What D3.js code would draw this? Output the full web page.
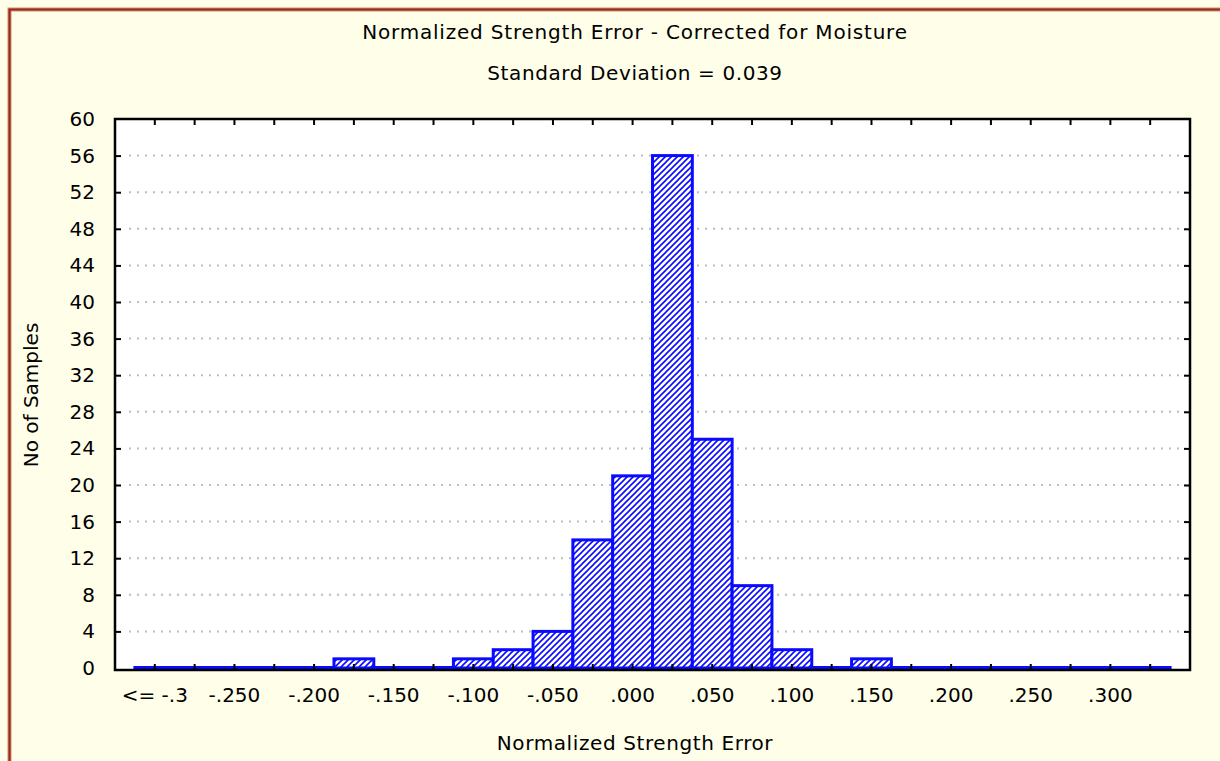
<!DOCTYPE html>
<html>
<head>
<meta charset="utf-8">
<script src="https://cdn.jsdelivr.net/npm/d3@7"></script>
<style>
  html, body { margin: 0; padding: 0; background: #fffef0; }
  svg { display: block; }
  text { font-family: "DejaVu Sans", sans-serif; font-size: 20px; fill: #000; }
</style>
</head>
<body>
<svg id="chart" width="1220" height="761"></svg>
<script>
// ---- data ----
const categories = ["-.300","-.275","-.250","-.225","-.200","-.175","-.150","-.125","-.100","-.075","-.050","-.025",".000",".025",".050",".075",".100",".125",".150",".175",".200",".225",".250",".275",".300",".325"];
const counts = [0,0,0,0,0,1,0,0,1,2,4,14,21,56,25,9,2,0,1,0,0,0,0,0,0,0];
const xTickLabels = ["<= -.3","","-.250","","-.200","","-.150","","-.100","","-.050","",".000","",".050","",".100","",".150","",".200","",".250","",".300",""];
const yTicks = [0,4,8,12,16,20,24,28,32,36,40,44,48,52,56,60];
const titleText = "Normalized Strength Error - Corrected for Moisture";
const subtitleText = "Standard Deviation = 0.039";
const xTitle = "Normalized Strength Error";
const yTitle = "No of Samples";

// ---- layout ----
const W = 1220, H = 761;
const plot = {left: 115, right: 1190, top: 119, bottom: 670};
const blue = "#0a0aff";

const svg = d3.select("#chart");
const defs = svg.append("defs");
const pat = defs.append("pattern")
  .attr("id", "hatch").attr("patternUnits", "userSpaceOnUse")
  .attr("width", 6).attr("height", 6);
pat.append("rect").attr("width", 6).attr("height", 6).attr("fill", "#fff");
pat.append("path").attr("d", "M-1,1 l2,-2 M0,6 l6,-6 M5,7 l2,-2")
  .attr("stroke", blue).attr("stroke-width", 1.6);

// background and outer frame
svg.append("rect").attr("width", W).attr("height", H).attr("fill", "#fffee9");
svg.append("rect").attr("x", 9.5).attr("y", 9.5).attr("width", 1400).attr("height", 1000)
  .attr("fill", "none").attr("stroke", "#d08a74").attr("stroke-width", 4);
svg.append("rect").attr("x", 9.5).attr("y", 9.5).attr("width", 1400).attr("height", 1000)
  .attr("fill", "none").attr("stroke", "#982a18").attr("stroke-width", 2);

// scales
const x = d3.scaleBand().domain(categories).range([plot.left, plot.right])
  .paddingInner(0).paddingOuter(0.5);
const y = d3.scaleLinear().domain([0, 60]).range([plot.bottom - 2, plot.top]);

// plot area
svg.append("rect").attr("x", plot.left).attr("y", plot.top)
  .attr("width", plot.right - plot.left).attr("height", plot.bottom - plot.top)
  .attr("fill", "#fff");

// grid
svg.append("g").selectAll("line").data(yTicks.filter(d => d > 0 && d < 60)).join("line")
  .attr("x1", plot.left + 14).attr("x2", plot.right - 4)
  .attr("y1", d => y(d)).attr("y2", d => y(d))
  .attr("stroke", "#bdbdbd").attr("stroke-width", 2)
  .attr("stroke-dasharray", "2,6");

// bars (zero-count bins still show their outline on the baseline)
svg.append("g").selectAll("rect").data(counts).join("rect")
  .attr("x", (d, i) => x(categories[i]))
  .attr("width", x.bandwidth())
  .attr("y", d => Math.min(y(d), y(0) - 0.5))
  .attr("height", d => Math.max(y(0) - y(d), 0.5))
  .attr("fill", "url(#hatch)")
  .attr("stroke", blue).attr("stroke-width", 3);

// axes (inside ticks)
const fmtX = (d) => xTickLabels[categories.indexOf(d)];
const gx = svg.append("g").attr("transform", `translate(0,${plot.bottom})`)
  .call(d3.axisBottom(x).tickSize(-6).tickPadding(18).tickFormat(fmtX));
const gxt = svg.append("g").attr("transform", `translate(0,${plot.top})`)
  .call(d3.axisTop(x).tickSize(-6).tickFormat(""));
const gy = svg.append("g").attr("transform", `translate(${plot.left},0)`)
  .call(d3.axisLeft(y).tickValues(yTicks).tickSize(-6).tickPadding(20).tickFormat(d3.format("d")));
const gyr = svg.append("g").attr("transform", `translate(${plot.right},0)`)
  .call(d3.axisRight(y).tickValues(yTicks).tickSize(-6).tickFormat(""));
[gx, gxt, gy, gyr].forEach(g => {
  g.select(".domain").remove();
  g.selectAll(".tick line").attr("stroke", "#000").attr("stroke-width", 2);
  g.selectAll("text").attr("font-family", "DejaVu Sans").attr("font-size", 20).attr("fill", "#000");
});
gy.selectAll(".tick").filter(d => d === 0 || d === 60).select("line").remove();
gyr.selectAll(".tick").filter(d => d === 0 || d === 60).select("line").remove();

// frame
svg.append("rect").attr("x", plot.left).attr("y", plot.top)
  .attr("width", plot.right - plot.left).attr("height", plot.bottom - plot.top)
  .attr("fill", "none").attr("stroke", "#000").attr("stroke-width", 2.5);

// titles
svg.append("text").attr("x", 635).attr("y", 39).attr("text-anchor", "middle")
  .style("letter-spacing", "0.8px").text(titleText);
svg.append("text").attr("x", 635).attr("y", 80).attr("text-anchor", "middle")
  .style("letter-spacing", "0.6px").text(subtitleText);
svg.append("text").attr("x", 635).attr("y", 750).attr("text-anchor", "middle")
  .style("letter-spacing", "0.6px").text(xTitle);
svg.append("text").attr("transform", "translate(38,395) rotate(-90)").attr("text-anchor", "middle")
  .text(yTitle);
</script>
</body>
</html>
